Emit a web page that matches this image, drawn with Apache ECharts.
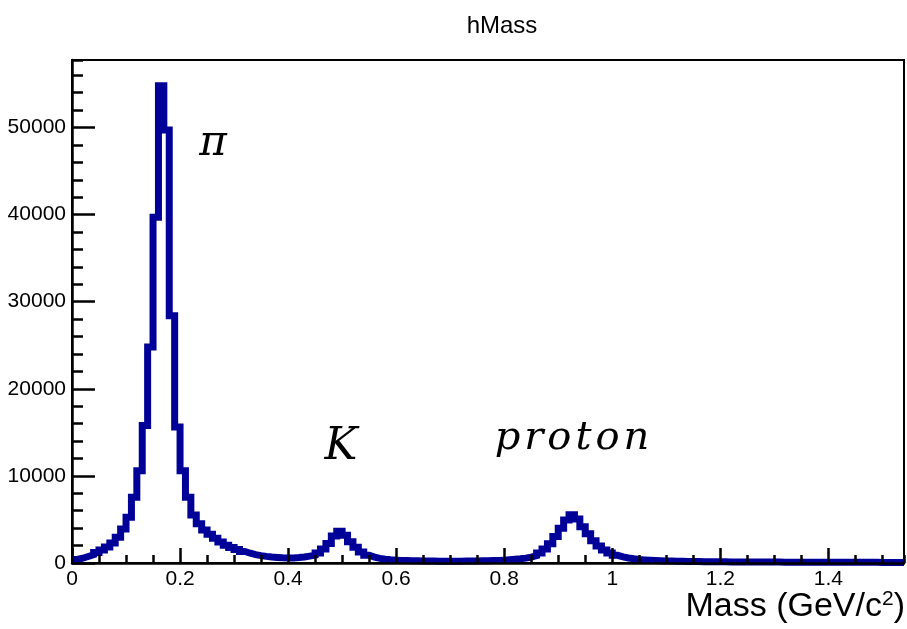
<!DOCTYPE html>
<html>
<head>
<meta charset="utf-8">
<script src="https://cdn.jsdelivr.net/npm/echarts@6/dist/echarts.min.js"></script>
<style>
html,body{margin:0;padding:0;background:#fff;}
#chart{width:907px;height:629px;}
</style>
</head>
<body>
<div id="chart"></div>
<script>
// ---- data ----
const chartTitle = 'hMass';
const binWidth = 0.01;          // GeV/c^2 per bin
const xMin = 0, xMax = 1.54;
const yMax = 57750;
// counts per bin, bin i covers [i*binWidth, (i+1)*binWidth]
const counts = [
  400, 550, 750, 950, 1200, 1500, 1850, 2300, 2950, 3900,
  5250, 7550, 10600, 15800, 24800, 39700, 54800, 49700, 28400, 15600,
  10600, 7550, 5500, 4500, 3800, 3300, 2850, 2400, 2050, 1780,
  1550, 1320, 1120, 960, 850, 760, 690, 640, 600, 580,
  580, 620, 690, 790, 900, 1150, 1600, 2250, 3100, 3650,
  3200, 2450, 1800, 1250, 900, 680, 530, 430, 370, 330,
  300, 280, 260, 250, 240, 230, 225, 215, 210, 205,
  210, 215, 220, 225, 235, 245, 260, 280, 300, 330,
  370, 420, 480, 560, 680, 850, 1150, 1600, 2200, 3050,
  4000, 4950, 5550, 5050, 4150, 3350, 2550, 1950, 1500, 1150,
  880, 700, 570, 480, 410, 360, 320, 290, 262, 240,
  222, 205, 192, 180, 171, 162, 156, 149, 144, 139,
  135, 129, 126, 121, 118, 116, 112, 109, 108, 104,
  102, 100, 97, 96, 93, 92, 90, 87, 86, 85,
  83, 82, 80, 79, 78, 76, 75, 74, 72, 71,
  70, 69, 68, 67
];
const labels = [
  { text: 'π', x: 213, y: 144, size: 42 },
  { text: 'K', x: 341, y: 448, size: 44 },
  { text: 'p\u200Ar\u200Ao\u200At\u200Ao\u200An', x: 572, y: 439, size: 40 }
];
const xTitle = 'Mass (GeV/c';

// ---- build ----
const pts = counts.map((v, i) => [+(i * binWidth).toFixed(4), v]);
pts.push([xMax, counts[counts.length - 1]]);

const font = "'Liberation Sans', Arial, Helvetica, sans-serif";
const serif = "'DejaVu Serif', 'Liberation Serif', serif";

const chart = echarts.init(document.getElementById('chart'), null, { renderer: 'canvas' });
chart.setOption({
  animation: false,
  backgroundColor: '#fff',
  title: {
    text: chartTitle, left: 497, top: 9, textAlign: 'center',
    textStyle: { fontFamily: font, fontSize: 24, fontWeight: 'normal', color: '#000' }
  },
  grid: {
    left: 72, right: 3, top: 60, bottom: 66,
    show: true, borderColor: '#000', borderWidth: 2, backgroundColor: 'transparent',
    outerBoundsMode: 'none'
  },
  xAxis: [
    {
      type: 'value', min: xMin, max: xMax, interval: 0.2, z: 5,
      axisLine: { show: true, onZero: false, lineStyle: { color: '#000', width: 2.5 } },
      axisTick: { show: true, inside: true, length: 15, lineStyle: { color: '#000', width: 2.5 } },
      axisLabel: { show: true, showMaxLabel: false, margin: 6, color: '#000', fontFamily: font, fontSize: 21,
        formatter: v => String(+v.toFixed(2)) },
      splitLine: { show: false }
    },
    {
      type: 'value', min: xMin, max: xMax, interval: 0.05, position: 'bottom', z: 5,
      axisLine: { show: false, onZero: false },
      axisTick: { show: true, inside: true, length: 8, lineStyle: { color: '#000', width: 2.5 } },
      axisLabel: { show: false },
      splitLine: { show: false }
    }
  ],
  yAxis: [
    {
      type: 'value', min: 0, max: yMax, interval: 10000, z: 5,
      axisLine: { show: true, onZero: false, lineStyle: { color: '#000', width: 2.5 } },
      axisTick: { show: true, inside: true, length: 23, lineStyle: { color: '#000', width: 2.5 } },
      axisLabel: { show: true, showMaxLabel: false, margin: 6, color: '#000', fontFamily: font, fontSize: 21,
        formatter: v => String(Math.round(v)) },
      splitLine: { show: false }
    },
    {
      type: 'value', min: 0, max: yMax, interval: 2000, position: 'left', z: 5,
      axisLine: { show: false, onZero: false },
      axisTick: { show: true, inside: true, length: 11, lineStyle: { color: '#000', width: 2.5 } },
      axisLabel: { show: false },
      splitLine: { show: false }
    }
  ],
  series: [{
    type: 'line', xAxisIndex: 0, yAxisIndex: 0,
    step: 'end', symbol: 'none', z: 2,
    data: pts,
    lineStyle: { color: '#000099', width: 7, join: 'miter', cap: 'butt' }
  }],
  graphic: labels.map(l => ({
    type: 'text', z: 10,
    style: {
      text: l.text, x: l.x, y: l.y, textAlign: 'center', textVerticalAlign: 'middle',
      fontFamily: serif, fontStyle: 'italic', fontSize: l.size, fill: '#000'
    }
  })).concat([{
    type: 'text', z: 10,
    style: {
      x: 905, y: 607, textAlign: 'right', textVerticalAlign: 'middle',
      text: '{a|' + xTitle + '}{s|2}{a|)}',
      rich: {
        a: { fontFamily: font, fontSize: 34, fill: '#000', color: '#000' },
        s: { fontFamily: font, fontSize: 21, fill: '#000', color: '#000', verticalAlign: 'top', padding: [0, 0, 16, 0] }
      }
    }
  }])
});
</script>
</body>
</html>
